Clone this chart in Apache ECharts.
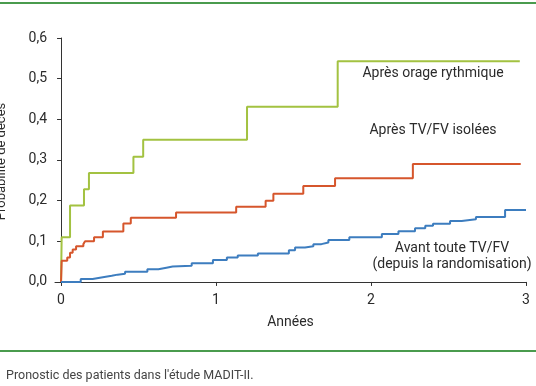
<!DOCTYPE html>
<html>
<head>
<meta charset="utf-8">
<script src="https://cdn.jsdelivr.net/npm/echarts@6/dist/echarts.min.js"></script>
<style>
html,body{margin:0;padding:0;background:#fff;}
#chart{width:536px;height:386px;}
</style>
</head>
<body>
<div id="chart"></div>
<script>
// ---- data ----
const orageT = [0, 0.004, 0.058, 0.148, 0.18, 0.467, 0.53, 1.20, 1.785, 2.96];
const orageP = [0, 0.11, 0.188, 0.228, 0.268, 0.308, 0.35, 0.431, 0.543, 0.543];

const isoleT = [0, 0.004, 0.04, 0.058, 0.075, 0.097, 0.144, 0.155, 0.213, 0.27, 0.402, 0.45, 0.742, 1.13, 1.32, 1.37, 1.563, 1.768, 2.27, 2.966];
const isoleP = [0, 0.052, 0.06, 0.072, 0.08, 0.088, 0.093, 0.1, 0.11, 0.124, 0.144, 0.158, 0.171, 0.185, 0.2, 0.217, 0.236, 0.255, 0.29, 0.29];

const avantT = [0, 0.127, 0.204, 0.26, 0.327, 0.365, 0.413, 0.557, 0.628, 0.68, 0.72, 0.843, 0.98, 1.07, 1.14, 1.27, 1.47, 1.51, 1.574, 1.628, 1.68, 1.725, 1.86, 2.07, 2.177, 2.284, 2.35, 2.40, 2.51, 2.585, 2.677, 2.865, 3.0];
const avantP = [0, 0.007, 0.011, 0.015, 0.018, 0.02, 0.025, 0.031, 0.035, 0.038, 0.04, 0.046, 0.054, 0.06, 0.065, 0.07, 0.078, 0.085, 0.088, 0.093, 0.097, 0.103, 0.11, 0.118, 0.125, 0.132, 0.138, 0.143, 0.15, 0.154, 0.16, 0.177, 0.177];

const xTicks = [0, 1, 2, 3];
const yTicks = [0, 0.1, 0.2, 0.3, 0.4, 0.5, 0.6];

const seriesNames = ['Après orage rythmique', 'Après TV/FV isolées', 'Avant toute TV/FV\n(depuis la randomisation)'];
const xTitle = 'Années';
const yTitle = 'Probabilité de décès';
const caption = "Pronostic des patients dans l'étude MADIT-II.";

const pairs = (t, p) => t.map((v, i) => [v, p[i]]);

const FONT = 'Roboto';
const TXT = '#2b2b2b';
const chart = echarts.init(document.getElementById('chart'));
chart.setOption({
  animation: false,
  backgroundColor: '#fff',
  grid: { left: 55, right: 10, top: 38, bottom: 101, containLabel: false, outerBoundsMode: 'none' },
  xAxis: {
    type: 'value', min: -0.039, max: 3,
    axisLine: { show: true, lineStyle: { color: '#333', width: 1 } },
    axisTick: { show: true, length: 4, lineStyle: { color: '#333' }, customValues: xTicks },
    axisLabel: { customValues: xTicks, color: TXT, fontFamily: FONT, fontSize: 14, margin: 8, formatter: v => String(v) },
    splitLine: { show: false },
    name: xTitle, nameLocation: 'middle', nameGap: 30,
    nameTextStyle: { color: TXT, fontFamily: FONT, fontSize: 14 }
  },
  yAxis: {
    type: 'value', min: -0.0075, max: 0.6,
    axisLine: { show: true, lineStyle: { color: '#333', width: 1 } },
    axisTick: { show: true, length: 4, lineStyle: { color: '#333' }, customValues: yTicks },
    axisLabel: { customValues: yTicks, color: TXT, fontFamily: FONT, fontSize: 14, margin: 8, formatter: v => v.toFixed(1).replace('.', ',') },
    splitLine: { show: false },
    name: yTitle, nameLocation: 'middle', nameGap: 47, nameRotate: 90,
    nameTextStyle: { color: TXT, fontFamily: FONT, fontSize: 13 }
  },
  series: [
    { name: seriesNames[0], type: 'line', step: 'end', data: pairs(orageT, orageP), showSymbol: false,
      lineStyle: { color: '#a3c241', width: 2 } },
    { name: seriesNames[1], type: 'line', step: 'end', data: pairs(isoleT, isoleP), showSymbol: false,
      lineStyle: { color: '#d6562c', width: 2 } },
    { name: seriesNames[2], type: 'line', step: 'end', data: pairs(avantT, avantP), showSymbol: false,
      lineStyle: { color: '#3d7dbf', width: 2 } }
  ],
  graphic: [
    { type: 'rect', shape: { x: 0, y: 2, width: 536, height: 2 }, style: { fill: '#4a9b4e' } },
    { type: 'rect', shape: { x: 0, y: 350, width: 536, height: 2 }, style: { fill: '#4a9b4e' } },
    { type: 'text', left: 6, top: 369, style: { text: caption, fill: '#444', font: '12.5px ' + FONT } },
    { type: 'text', x: 433, y: 73, style: { text: seriesNames[0], fill: TXT, font: '14px ' + FONT, align: 'center', verticalAlign: 'middle' } },
    { type: 'text', x: 433, y: 130, style: { text: seriesNames[1], fill: TXT, font: '14px ' + FONT, align: 'center', verticalAlign: 'middle' } },
    { type: 'text', x: 452, y: 256, style: { text: seriesNames[2], fill: TXT, font: '14px ' + FONT, align: 'center', verticalAlign: 'middle', lineHeight: 16 } }
  ]
});
</script>
</body>
</html>
